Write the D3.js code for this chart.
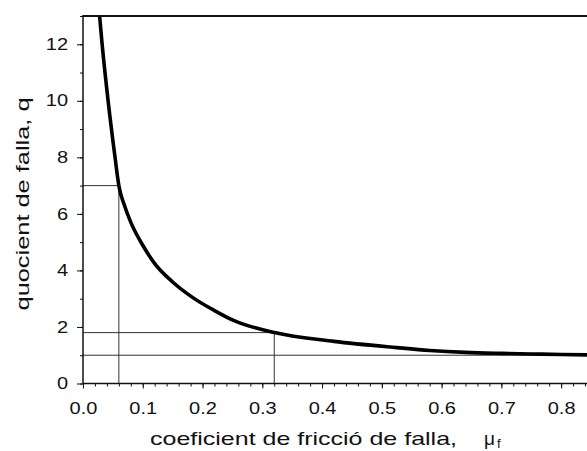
<!DOCTYPE html>
<html>
<head>
<meta charset="utf-8">
<script src="https://cdn.jsdelivr.net/npm/d3@7"></script>
<style>
  html, body { margin: 0; padding: 0; background: #fff; }
  svg { display: block; }
  text { font-family: "Liberation Sans", Arial, Helvetica, sans-serif; fill: #111; }
</style>
</head>
<body>
<svg id="chart" width="587" height="451"></svg>
<script>
// Fault friction coefficient (mu_f) against fault quotient (q)
const muValues = [0.0265, 0.032, 0.042, 0.0536, 0.060, 0.070, 0.080, 0.100, 0.120, 0.150, 0.185, 0.220, 0.250, 0.320, 0.420, 0.525, 0.580, 0.640, 0.700, 0.750, 0.800, 0.850];
const qValues  = [13.3,   12.0,  10.0,  8.0,    7.0,   6.26,  5.70,  4.89,  4.24,  3.59,  3.02,  2.58,  2.25,  1.80,  1.49,  1.27,  1.17,  1.10,  1.065, 1.045, 1.025, 1.01];

// Read-off points marked with guide lines: (mu, q)
const guideMu = [0.06, 0.32];
const guideQ  = [7, 1.8];
const asymptoteQ = 1;

const xTicks = [0.0, 0.1, 0.2, 0.3, 0.4, 0.5, 0.6, 0.7, 0.8];
const yTicks = [0, 2, 4, 6, 8, 10, 12];

const svg = d3.select("#chart");
const plotLeft = 83, plotRight = 591, plotTop = 16, plotBottom = 383.5;

const x = d3.scaleLinear().domain([0, 0.85]).range([plotLeft, plotRight]);
const y = d3.scaleLinear().domain([0, 13]).range([plotBottom, plotTop]);

// widen a text element horizontally (the lettering is a broad grotesque)
function widen(sel, factor) {
  sel.each(function () {
    const w = this.getComputedTextLength();
    d3.select(this).attr("textLength", w * factor).attr("lengthAdjust", "spacingAndGlyphs");
  });
}

svg.append("defs").append("clipPath").attr("id", "plotClip")
  .append("rect").attr("x", plotLeft).attr("y", plotTop)
  .attr("width", plotRight - plotLeft).attr("height", plotBottom - plotTop);

const plot = svg.append("g").attr("clip-path", "url(#plotClip)");

// guide lines
const guideColor = "#333";
guideMu.forEach((m, i) => {
  plot.append("line")
    .attr("x1", x(0)).attr("x2", x(m))
    .attr("y1", y(guideQ[i])).attr("y2", y(guideQ[i]))
    .attr("stroke", guideColor).attr("stroke-width", 1);
  plot.append("line")
    .attr("x1", x(m)).attr("x2", x(m))
    .attr("y1", y(guideQ[i])).attr("y2", y(0))
    .attr("stroke", guideColor).attr("stroke-width", 1);
});
plot.append("line")
  .attr("x1", x(0)).attr("x2", x(0.85))
  .attr("y1", y(asymptoteQ)).attr("y2", y(asymptoteQ))
  .attr("stroke", guideColor).attr("stroke-width", 1);

// main curve
const pts = muValues.map((m, i) => [m, qValues[i]]);
plot.append("path")
  .datum(pts)
  .attr("fill", "none")
  .attr("stroke", "#000")
  .attr("stroke-width", 3.6)
  .attr("stroke-linejoin", "round")
  .attr("d", d3.line().x(d => x(d[0])).y(d => y(d[1])).curve(d3.curveMonotoneX));

// top frame line
svg.append("line")
  .attr("x1", plotLeft).attr("x2", 587)
  .attr("y1", plotTop).attr("y2", plotTop)
  .attr("stroke", "#111").attr("stroke-width", 1.8);

// x axis: minor ticks every 0.02, labelled majors every 0.1
const xMinor = svg.append("g").attr("transform", `translate(0,${plotBottom})`)
  .call(d3.axisBottom(x).tickValues(d3.range(0, 0.851, 0.02)).tickSize(3).tickFormat(""));
xMinor.select(".domain").remove();
const xMajor = svg.append("g").attr("transform", `translate(0,${plotBottom})`)
  .call(d3.axisBottom(x).tickValues(xTicks).tickSize(5).tickPadding(14).tickFormat(d3.format(".1f")));
xMajor.select(".domain").remove();
xMajor.selectAll("text").attr("font-size", 16).attr("fill", "#111").call(widen, 1.25);
svg.append("line").attr("x1", plotLeft).attr("x2", 587).attr("y1", plotBottom).attr("y2", plotBottom)
  .attr("stroke", "#111").attr("stroke-width", 1.5);

// y axis: minor ticks every 1, labelled majors every 2
const yMinor = svg.append("g").attr("transform", `translate(${plotLeft},0)`)
  .call(d3.axisLeft(y).tickValues(d3.range(0, 13.01, 1)).tickSize(3).tickFormat(""));
yMinor.select(".domain").remove();
const yMajor = svg.append("g").attr("transform", `translate(${plotLeft},0)`)
  .call(d3.axisLeft(y).tickValues(yTicks).tickSize(6).tickPadding(9).tickFormat(d3.format("d")));
yMajor.select(".domain").remove();
yMajor.selectAll("text").attr("font-size", 16).attr("fill", "#111").call(widen, 1.25);
svg.append("line").attr("x1", plotLeft).attr("x2", plotLeft).attr("y1", plotTop - 1).attr("y2", plotBottom)
  .attr("stroke", "#111").attr("stroke-width", 1.5);

svg.selectAll(".tick line").attr("stroke", "#111");

// axis titles
svg.append("text")
  .attr("x", 150).attr("y", 445)
  .attr("font-size", 19)
  .text("coeficient de fricció de falla,")
  .attr("textLength", 307).attr("lengthAdjust", "spacingAndGlyphs");
const muLabel = svg.append("text")
  .attr("x", 484).attr("y", 445)
  .attr("font-size", 19);
muLabel.append("tspan").text("μ");
muLabel.append("tspan").attr("font-size", 13).attr("dx", 2).attr("dy", 3).text("f");

svg.append("text")
  .attr("transform", "translate(29,204) rotate(-90)")
  .attr("text-anchor", "middle")
  .attr("font-size", 19)
  .text("quocient de falla,  q")
  .attr("textLength", 213).attr("lengthAdjust", "spacingAndGlyphs");
</script>
</body>
</html>
